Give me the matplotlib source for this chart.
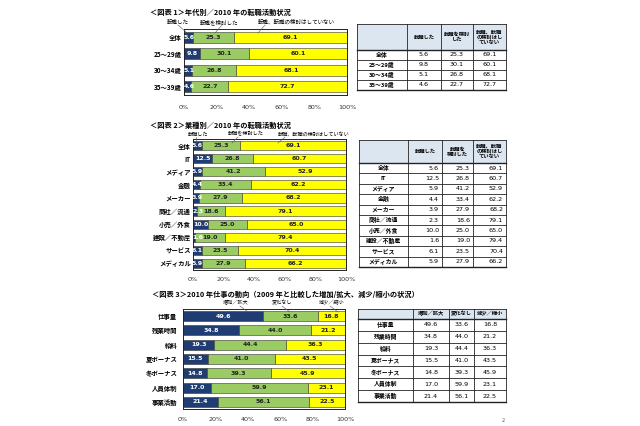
import numpy as np
import matplotlib
matplotlib.use("Agg")
import matplotlib.pyplot as plt

plt.rcParams['font.family'] = ['Noto Sans CJK JP', 'DejaVu Sans']

W, H = 640, 426
NAVY = "#1f3d73"
GREEN = "#9acc63"
YELLOW = "#ffff00"
HEAD = "#dce6f1"

# <図表 1> age groups
age_labels = ["全体", "25～29歳", "30～34歳", "35～39歳"]
age_moved = [5.6, 9.8, 5.1, 4.6]
age_considered = [25.3, 30.1, 26.8, 22.7]
age_none = [69.1, 60.1, 68.1, 72.7]

# <図表 2> industries
ind_labels = ["全体", "IT", "メディア", "金融", "メーカー", "商社／流通",
              "小売／外食", "建設／不動産", "サービス", "メディカル"]
ind_moved = [5.6, 12.5, 5.9, 4.4, 3.9, 2.3, 10.0, 1.6, 6.1, 5.9]
ind_considered = [25.3, 26.8, 41.2, 33.4, 27.9, 18.6, 25.0, 19.0, 23.5, 27.9]
ind_none = [69.1, 60.7, 52.9, 62.2, 68.2, 79.1, 65.0, 79.4, 70.4, 66.2]

# <図表 3> work trends
work_labels = ["仕事量", "残業時間", "給料", "夏ボーナス", "冬ボーナス", "人員体制", "事業活動"]
work_up = [49.6, 34.8, 19.3, 15.5, 14.8, 17.0, 21.4]
work_same = [33.6, 44.0, 44.4, 41.0, 39.3, 59.9, 56.1]
work_down = [16.8, 21.2, 36.3, 43.5, 45.9, 23.1, 22.5]

legend1 = ["転職した", "転職を検討した", "転職、転職の検討はしていない"]
legend3 = ["増加／拡大", "変化なし", "減少／縮小"]
head1 = ["", "転職した", "転職を検討\nした", "転職、転職\nの検討はし\nていない"]
head2 = ["", "転職した", "転職を\n検討した", "転職、転職\nの検討はし\nていない"]
head3 = ["", "増加／拡大", "変化なし", "減少／縮小"]


def addAxes(fig, x0, y0, x1, y1):
    """Axes from a pixel box given with the origin at the top left."""
    return fig.add_axes([x0 / W, 1 - y1 / H, (x1 - x0) / W, (y1 - y0) / H])


def drawBars(ax, labels, series, barHeight, xpad, ypad):
    y = np.arange(len(labels))
    left = np.zeros(len(labels))
    colors = [NAVY, GREEN, YELLOW]
    textColors = ["white", "#222222", "#222222"]
    for vals, c, tc in zip(series, colors, textColors):
        ax.barh(y, vals, left=left, height=barHeight, color=c,
                edgecolor="#333333", linewidth=0.4)
        for yi, l, v in zip(y, left, vals):
            # keep the label of a thin first segment inside the plot box
            xc = max(l + v / 2, 3.0)
            ax.text(xc, yi, "{:.1f}".format(v), ha="center", va="center",
                    fontsize=4.5, color=tc, fontweight="bold", family="DejaVu Sans")
        left = left + np.array(vals)
    ax.set_xlim(0, 100)
    ax.set_ylim(len(labels) - 0.5, -0.5)
    ax.set_yticks(y, labels, fontsize=4.6, fontweight="bold")
    ax.set_xticks(range(0, 101, 20), ["{}%".format(t) for t in range(0, 101, 20)],
                  fontsize=4.6, family="DejaVu Sans")
    ax.tick_params(axis="x", length=0, pad=xpad, colors="#333333")
    ax.tick_params(axis="y", length=0, pad=ypad)
    for s in ax.spines.values():
        s.set_linewidth(0.7)
        s.set_color("#222222")


def drawTable(ov, header, rowLabels, columns, colEdges, headTop, headBottom, bottom,
              align="center"):
    rows = len(rowLabels)
    rowEdges = np.linspace(headBottom, bottom, rows + 1)
    ov.fill_between([colEdges[0], colEdges[-1]], headTop, headBottom, color=HEAD, lw=0)
    for x in colEdges:
        ov.plot([x, x], [headTop, bottom], color="#222222", lw=0.6)
    for yy in [headTop] + list(rowEdges):
        lw = 1.0 if yy in (headBottom, bottom) else 0.6
        ov.plot([colEdges[0], colEdges[-1]], [yy, yy], color="#222222", lw=lw)
    for j, h in enumerate(header):
        if h:
            ov.text((colEdges[j] + colEdges[j + 1]) / 2, (headTop + headBottom) / 2, h,
                    ha="center", va="center", fontsize=3.8, fontweight="bold",
                    linespacing=1.0)
    for i, lab in enumerate(rowLabels):
        yc = (rowEdges[i] + rowEdges[i + 1]) / 2
        ov.text((colEdges[0] + colEdges[1]) / 2, yc, lab, ha="center", va="center",
                fontsize=4.2, fontweight="bold")
        for j, col in enumerate(columns):
            if align == "right":
                xt, ha = colEdges[j + 2] - 3, "right"
            else:
                xt, ha = (colEdges[j + 1] + colEdges[j + 2]) / 2, "center"
            ov.text(xt, yc, "{:.1f}".format(col[i]), ha=ha, va="center", fontsize=4.6,
                    family="DejaVu Sans")


def main():
    fig = plt.figure(figsize=(W / 100, H / 100), dpi=100)
    fig.patch.set_facecolor("white")

    ax1 = addAxes(fig, 184, 29, 347, 95)
    drawBars(ax1, age_labels, [age_moved, age_considered, age_none], 0.65, 7, 1.5)
    ax2 = addAxes(fig, 193, 139, 346, 270)
    drawBars(ax2, ind_labels, [ind_moved, ind_considered, ind_none], 0.7, 5, 1.5)
    ax3 = addAxes(fig, 183, 309, 345, 409)
    drawBars(ax3, work_labels, [work_up, work_same, work_down], 0.7, 5.5, 4)

    ov = fig.add_axes([0, 0, 1, 1])
    ov.set_xlim(0, W)
    ov.set_ylim(H, 0)
    ov.axis("off")
    ov.patch.set_visible(False)

    # titles
    ov.text(150, 12, "＜図表 1＞年代別／2010 年の転職活動状況", fontsize=5.2,
            fontweight="bold", va="center")
    ov.text(150, 125, "＜図表 2＞業種別／2010 年の転職活動状況", fontsize=5.2,
            fontweight="bold", va="center")
    ov.text(152, 294, "＜図表 3＞2010 年仕事の動向（2009 年と比較した増加/拡大、減少/縮小の状況）",
            fontsize=5.2, fontweight="bold", va="center")

    # legend labels above bars with short leader lines
    for x, txt in [(167, legend1[0]), (200, legend1[1]), (258, legend1[2])]:
        ov.text(x, 22, txt, fontsize=4.0, va="center")
    for x1, y1, x2, y2 in [(178, 25, 187, 33), (222, 25, 215, 33), (265, 25, 258, 33)]:
        ov.plot([x1, x2], [y1, y2], color="#555555", lw=0.4)
    for x, txt in [(188, legend1[0]), (228, legend1[1]), (278, legend1[2])]:
        ov.text(x, 134, txt, fontsize=3.7, va="center")
    for x1, y1, x2, y2 in [(196, 137, 196, 143), (238, 137, 232, 143), (285, 137, 278, 143)]:
        ov.plot([x1, x2], [y1, y2], color="#555555", lw=0.4)
    for x, txt in [(223, legend3[0]), (272, legend3[1]), (319, legend3[2])]:
        ov.text(x, 303, txt, fontsize=3.7, va="center")
    for x1, y1, x2, y2 in [(240, 306, 248, 312), (282, 306, 290, 312), (330, 306, 338, 312)]:
        ov.plot([x1, x2], [y1, y2], color="#555555", lw=0.4)

    # tables
    drawTable(ov, head1, age_labels, [age_moved, age_considered, age_none],
              [357, 407, 441, 473, 506], 24, 50, 90)
    drawTable(ov, head2, ind_labels, [ind_moved, ind_considered, ind_none],
              [359, 408, 442, 473, 506], 140, 163, 267, align="right")
    drawTable(ov, head3, work_labels, [work_up, work_same, work_down],
              [358, 413, 449, 474, 506], 309, 319, 402)

    ov.text(503, 421, "2", fontsize=4, color="#555555", ha="center", va="center")

    fig.savefig("out.png", dpi=100)


if __name__ == '__main__':
    main()
